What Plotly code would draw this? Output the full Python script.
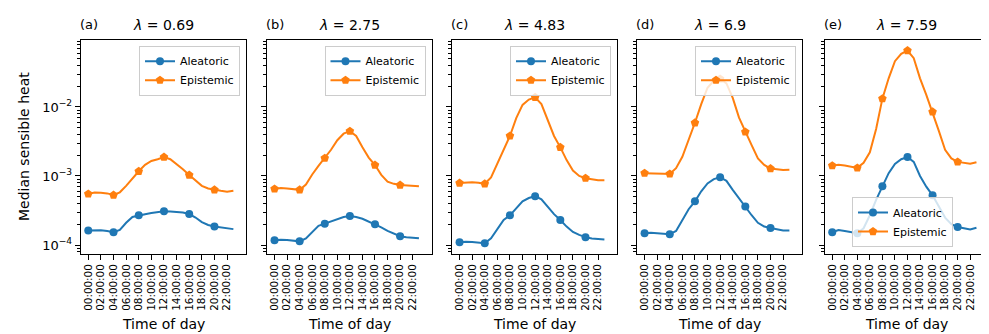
import plotly.graph_objects as go
from plotly.subplots import make_subplots

# hourly medians
hours = list(range(24))
tick_hours = list(range(0, 24, 2))
tick_labels = [f"{h:02d}:00:00" for h in tick_hours]
lambdas = ["0.69", "2.75", "4.83", "6.9", "7.59"]
panel_tags = ["(a)", "(b)", "(c)", "(d)", "(e)"]

aleatoric_a = [1.63e-4, 1.65e-4, 1.64e-4, 1.60e-4, 1.53e-4, 1.65e-4, 2.10e-4, 2.55e-4,
               2.69e-4, 2.80e-4, 2.90e-4, 3.00e-4, 3.08e-4, 3.05e-4, 3.00e-4, 2.95e-4,
               2.81e-4, 2.50e-4, 2.15e-4, 1.95e-4, 1.86e-4, 1.80e-4, 1.74e-4, 1.70e-4]
epistemic_a = [5.5e-4, 5.75e-4, 5.7e-4, 5.6e-4, 5.3e-4, 5.8e-4, 7.2e-4, 9.3e-4,
               1.17e-3, 1.45e-3, 1.65e-3, 1.75e-3, 1.88e-3, 1.75e-3, 1.5e-3, 1.25e-3,
               1.03e-3, 8.5e-4, 7.2e-4, 6.6e-4, 6.3e-4, 6.1e-4, 5.9e-4, 6.1e-4]

aleatoric_b = [1.17e-4, 1.19e-4, 1.18e-4, 1.16e-4, 1.13e-4, 1.25e-4, 1.55e-4, 1.9e-4,
               2.04e-4, 2.2e-4, 2.4e-4, 2.55e-4, 2.63e-4, 2.55e-4, 2.4e-4, 2.2e-4,
               2.0e-4, 1.8e-4, 1.6e-4, 1.45e-4, 1.34e-4, 1.3e-4, 1.27e-4, 1.25e-4]
epistemic_b = [6.5e-4, 6.7e-4, 6.6e-4, 6.5e-4, 6.3e-4, 7.5e-4, 1.05e-3, 1.4e-3,
               1.81e-3, 2.4e-3, 3.3e-3, 4.1e-3, 4.46e-3, 3.8e-3, 2.6e-3, 1.85e-3,
               1.44e-3, 1.04e-3, 8.3e-4, 7.7e-4, 7.4e-4, 7.3e-4, 7.1e-4, 7.1e-4]

aleatoric_c = [1.1e-4, 1.12e-4, 1.11e-4, 1.09e-4, 1.06e-4, 1.25e-4, 1.7e-4, 2.3e-4,
               2.69e-4, 3.4e-4, 4.3e-4, 4.8e-4, 5.1e-4, 4.6e-4, 3.6e-4, 2.8e-4,
               2.3e-4, 1.85e-4, 1.55e-4, 1.4e-4, 1.3e-4, 1.24e-4, 1.22e-4, 1.2e-4]
epistemic_c = [7.9e-4, 8.1e-4, 8.1e-4, 8.0e-4, 7.7e-4, 9.5e-4, 1.5e-3, 2.4e-3,
               3.8e-3, 6.9e-3, 1.07e-2, 1.28e-2, 1.38e-2, 1.1e-2, 6.5e-3, 3.8e-3,
               2.6e-3, 1.7e-3, 1.2e-3, 1.0e-3, 9.3e-4, 9.0e-4, 8.7e-4, 8.7e-4]

aleatoric_d = [1.48e-4, 1.5e-4, 1.48e-4, 1.47e-4, 1.43e-4, 1.6e-4, 2.3e-4, 3.3e-4,
               4.3e-4, 6.0e-4, 7.8e-4, 9.0e-4, 9.6e-4, 8.5e-4, 6.3e-4, 4.7e-4,
               3.6e-4, 2.7e-4, 2.1e-4, 1.85e-4, 1.77e-4, 1.7e-4, 1.62e-4, 1.63e-4]
epistemic_d = [1.1e-3, 1.1e-3, 1.09e-3, 1.08e-3, 1.07e-3, 1.3e-3, 1.9e-3, 3.3e-3,
               5.9e-3, 1.1e-2, 1.9e-2, 2.4e-2, 2.55e-2, 2.2e-2, 1.35e-2, 7.0e-3,
               4.35e-3, 2.8e-3, 1.8e-3, 1.45e-3, 1.28e-3, 1.25e-3, 1.22e-3, 1.23e-3]

aleatoric_e = [1.53e-4, 1.65e-4, 1.6e-4, 1.55e-4, 1.48e-4, 1.75e-4, 2.7e-4, 4.5e-4,
               7.1e-4, 1.1e-3, 1.5e-3, 1.75e-3, 1.88e-3, 1.6e-3, 1.0e-3, 7.0e-4,
               5.25e-4, 3.6e-4, 2.5e-4, 2.0e-4, 1.82e-4, 1.75e-4, 1.68e-4, 1.78e-4]
epistemic_e = [1.41e-3, 1.45e-3, 1.42e-3, 1.38e-3, 1.31e-3, 1.55e-3, 2.2e-3, 4.8e-3,
               1.32e-2, 2.6e-2, 4.6e-2, 5.9e-2, 6.55e-2, 5.1e-2, 2.6e-2, 1.5e-2,
               8.5e-3, 4.5e-3, 2.4e-3, 1.8e-3, 1.6e-3, 1.55e-3, 1.5e-3, 1.58e-3]

aleatoric = [aleatoric_a, aleatoric_b, aleatoric_c, aleatoric_d, aleatoric_e]
epistemic = [epistemic_a, epistemic_b, epistemic_c, epistemic_d, epistemic_e]

W, H = 989, 334
BLUE, ORANGE = "#1f77b4", "#ff7f0e"
FONT = "DejaVu Sans"

# axes boxes in pixels (left, right), shared top/bottom
boxes = [(72.7, 238.0), (259.0, 423.5), (444.0, 609.0), (629.0, 794.0), (816.7, 981.0)]
top_px, bot_px = 32.0, 246.0

def px_x(p):
    return p / W

def px_y(p):
    return 1 - p / H

def marker_colors(color):
    # marker on every 4th hour, like markevery
    return [color if h % 4 == 0 else "rgba(0,0,0,0)" for h in hours]

fig = make_subplots(rows=1, cols=5, shared_yaxes=True)

for i in range(5):
    leg = "legend" if i == 0 else f"legend{i + 1}"
    fig.add_trace(go.Scatter(
        x=hours, y=aleatoric[i], name="Aleatoric", mode="lines+markers",
        line=dict(color=BLUE, width=2),
        marker=dict(symbol="circle", size=8, color=marker_colors(BLUE), line=dict(width=0)),
        legend=leg), row=1, col=i + 1)
    fig.add_trace(go.Scatter(
        x=hours, y=epistemic[i], name="Epistemic", mode="lines+markers",
        line=dict(color=ORANGE, width=2),
        marker=dict(symbol="pentagon", size=9, color=marker_colors(ORANGE), line=dict(width=0)),
        legend=leg), row=1, col=i + 1)

minor_vals = [m * 10.0 ** e for e in range(-5, 0) for m in range(2, 10)]

annotations = []
for i, (l, r) in enumerate(boxes):
    xa = "xaxis" if i == 0 else f"xaxis{i + 1}"
    ya = "yaxis" if i == 0 else f"yaxis{i + 1}"
    fig.layout[xa].update(
        domain=[px_x(l), px_x(r)], range=[-1.2, 25.0],
        tickmode="array", tickvals=tick_hours, ticktext=tick_labels, tickangle=-90,
        tickfont=dict(size=10.4, color="black", family=FONT),
        ticks="outside", ticklen=5, tickwidth=1, tickcolor="black",
        showline=True, linecolor="black", linewidth=1, mirror=True,
        showgrid=False, zeroline=False, automargin=False)
    fig.layout[ya].update(
        domain=[px_y(bot_px), px_y(top_px)], type="log", range=[-4.13, -1.03],
        tickmode="array", tickvals=[1e-4, 1e-3, 1e-2],
        ticktext=["10<sup>\u22124</sup>", "10<sup>\u22123</sup>", "10<sup>\u22122</sup>"],
        showticklabels=(i == 0),
        tickfont=dict(size=13, color="black", family=FONT),
        ticks="outside", ticklen=5, tickwidth=1, tickcolor="black",
        minor=dict(tickmode="array", tickvals=minor_vals, ticks="outside",
                   ticklen=3, tickwidth=0.8, tickcolor="black"),
        showline=True, linecolor="black", linewidth=1, mirror=True,
        showgrid=False, zeroline=False, automargin=False)

    cx = px_x((l + r) / 2)
    annotations.append(dict(text=f"<i>\u03bb</i> = {lambdas[i]}", x=cx, y=px_y(17),
                            xref="paper", yref="paper", showarrow=False,
                            xanchor="center", yanchor="middle",
                            font=dict(size=14, color="black", family=FONT)))
    annotations.append(dict(text=panel_tags[i], x=px_x(l - 3), y=px_y(16),
                            xref="paper", yref="paper", showarrow=False,
                            xanchor="left", yanchor="middle",
                            font=dict(size=13, color="black", family=FONT)))
    annotations.append(dict(text="Time of day", x=cx, y=px_y(316),
                            xref="paper", yref="paper", showarrow=False,
                            xanchor="center", yanchor="middle",
                            font=dict(size=14, color="black", family=FONT)))

    leg_key = "legend" if i == 0 else f"legend{i + 1}"
    if i < 4:
        leg_pos = dict(x=px_x(r - 6), y=px_y(37.7), xanchor="right", yanchor="top")
    else:
        leg_pos = dict(x=px_x(945), y=px_y(239), xanchor="right", yanchor="bottom")
    fig.layout[leg_key] = dict(
        **leg_pos, bgcolor="rgba(255,255,255,0.8)", bordercolor="#cccccc", borderwidth=1,
        font=dict(size=11, color="black", family=FONT), tracegroupgap=0,
        itemwidth=30)

annotations.append(dict(text="Median sensible heat", x=px_x(16), y=px_y((top_px + bot_px) / 2),
                        xref="paper", yref="paper", showarrow=False, textangle=-90,
                        xanchor="center", yanchor="middle",
                        font=dict(size=14, color="black", family=FONT)))

fig.update_layout(
    width=W, height=H, margin=dict(l=0, r=0, t=0, b=0),
    paper_bgcolor="white", plot_bgcolor="white",
    font=dict(family=FONT, color="black"),
    annotations=annotations, showlegend=True)

fig.write_html("out.html")
